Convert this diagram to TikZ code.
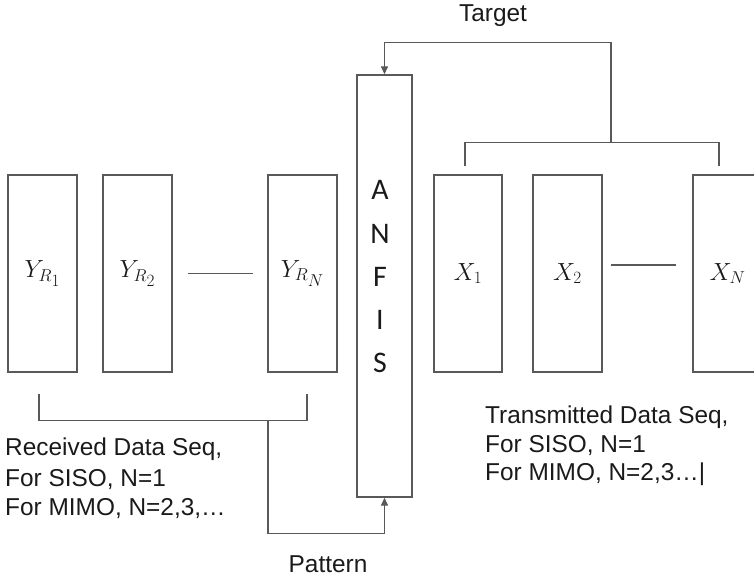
\documentclass[tikz,border=0pt]{standalone}
\usepackage{fontspec}
\setmainfont{Liberation Sans}
\newfontfamily\lettersfont{Carlito}
\usetikzlibrary{arrows.meta,calc}
\DeclareMathSizes{25}{26}{19}{17}
\definecolor{linegray}{HTML}{595959}
\definecolor{inkblack}{HTML}{1A1A1A}
\tikzset{
  seqbox/.style={draw=linegray, line width=1.4bp, minimum width=69bp,
    minimum height=197bp, inner sep=0pt, text=inkblack,
    font=\fontsize{25}{30}\selectfont},
  wire/.style={draw=linegray, line width=1.4bp},
  flow/.style={wire, -{Triangle[length=8bp,width=7bp]}},
  caption/.style={text=inkblack, font=\fontsize{24.5}{29}\selectfont,
    inner sep=0pt, anchor=base west},
  heading/.style={caption, anchor=base},
  letter/.style={text=inkblack, font=\lettersfont\fontsize{30}{30}\selectfont,
    inner sep=0pt, anchor=base},
}
\begin{document}
\begin{tikzpicture}[x=1bp, y=-1bp]
  \useasboundingbox (0,0) rectangle (754,578);
  \clip (0,0) rectangle (754,578);

  % received sequences
  \node[seqbox] (y1) at (42.5,273.5) {$Y_{R_1}$};
  \node[seqbox] (y2) at (137.5,273.5) {$Y_{R_2}$};
  \node[seqbox] (yn) at (302.5,273.5) {$Y_{R_N}$};

  % ANFIS block
  \node[seqbox, minimum width=55bp, minimum height=422bp] (anfis) at (384.5,286) {};
  \node[letter] (la) at (380,200) {A};
  \node[letter] (ln) at (380,243) {N};
  \node[letter] (lf) at (380,286) {F};
  \node[letter] (li) at (380,329) {I};
  \node[letter] (ls) at (380,372) {S};

  % transmitted sequences
  \node[seqbox, minimum width=68bp] (x1) at (468,273.5) {$X_1$};
  \node[seqbox] (x2) at (567.5,273.5) {$X_2$};
  \node[seqbox] (xn) at (727.5,273.5) {$X_N$};

  % ellipsis dashes between boxes
  \draw[wire] ($(y2.east)+(15,0)$) -- ($(yn.west)+(-14,0)$);
  \draw[wire] ($(x2.east)+(8,-8.5)$) -- ($(xn.west)+(-16,-8.5)$);

  % pattern path: received sequences into ANFIS
  \draw[wire] ($(y1.south)+(-3.5,21)$) -- ++(0,27) -| ($(yn.south)+(4.5,21)$);
  \coordinate (ybr) at ($(yn.south)+(-34.5,48)$);
  \draw[flow] (ybr) -- ++(0,113) -| (anfis.south);

  % target path: transmitted sequences into ANFIS
  \draw[wire] ($(x1.north)+(-3,-8)$) -- ++(0,-24) -| ($(xn.north)+(-8.5,-8)$);
  \coordinate (xbr) at ($(x2.north)+(43.5,-32)$);
  \draw[flow] (xbr) -- ++(0,-100) -| (anfis.north);

  % captions
  \node[heading] (target) at (493,22) {Target};
  \node[heading] (pattern) at (328,572) {Pattern};

  \node[caption] (rx1) at (5,455) {Received Data Seq,};
  \node[caption] (rx2) at (5,486) {For SISO, N=1};
  \node[caption] (rx3) at (5,515) {For MIMO, N=2,3,…};

  \node[caption] (tx1) at (485,423) {Transmitted Data Seq,};
  \node[caption] (tx2) at (485,452) {For SISO, N=1};
  \node[caption] (tx3) at (485,480) {For MIMO, N=2,3…|};
\end{tikzpicture}
\end{document}
